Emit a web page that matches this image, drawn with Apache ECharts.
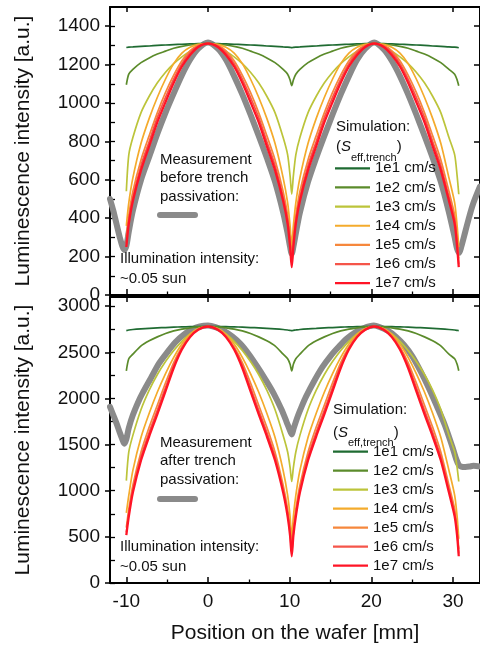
<!DOCTYPE html>
<html>
<head>
<meta charset="utf-8">
<script src="https://cdn.jsdelivr.net/npm/echarts@6/dist/echarts.min.js"></script>
<style>html,body{margin:0;padding:0;background:#fff;}#c{width:480px;height:647px;}</style>
</head>
<body>
<div id="c"></div>
<script>
// ---- data ----
const names = ['1e1 cm/s','1e2 cm/s','1e3 cm/s','1e4 cm/s','1e5 cm/s','1e6 cm/s','1e7 cm/s'];
const colors = ['#1f6b32','#5b8b2b','#bcc43a','#f4ab2c','#f6873c','#f5554a','#ff1426'];
const xTicks = [-10,0,10,20,30];
const xMinor = [-5,5,15,25];

// simulation positions [mm]
const simX = [-10.0,-9.7,-9.2,-8.2,-7.2,-6.2,-5.2,-4.2,-3.2,-2.2,-1.2,0.0,
  1.2,2.2,3.2,4.2,5.2,6.2,7.2,8.2,9.2,9.75,10.05,10.25,
  10.45,10.75,11.25,12.25,13.25,14.25,15.25,16.25,17.25,18.25,19.25,20.35,
  21.5,22.5,23.5,24.5,25.5,26.5,27.5,28.5,29.5,30.2,30.5,30.7];

// top panel: before trench passivation
const top1e1 = [1289,1291,1292,1295,1297,1300,1302,1304,1306,1308,1309,1310,
  1309,1308,1306,1304,1302,1300,1297,1295,1292,1291,1290,1288,
  1290,1291,1292,1295,1297,1300,1302,1304,1306,1308,1309,1310,
  1309,1308,1306,1304,1302,1300,1297,1295,1292,1291,1290,1288];
const top1e2 = [1095,1150,1175,1210,1235,1255,1270,1285,1295,1302,1307,1310,
  1307,1302,1295,1285,1270,1255,1235,1210,1175,1150,1120,1090,
  1120,1150,1175,1210,1235,1255,1270,1285,1295,1302,1307,1310,
  1307,1302,1295,1285,1270,1255,1235,1210,1175,1150,1120,1090];
const top1e3 = [540,730,820,950,1035,1105,1160,1205,1240,1270,1295,1310,
  1295,1270,1240,1205,1160,1105,1035,950,820,730,620,525,
  620,730,820,950,1035,1105,1160,1205,1240,1270,1295,1310,
  1295,1270,1240,1205,1160,1105,1035,950,820,730,620,525];
const top1e4 = [360,480,610,790,920,1030,1125,1205,1260,1290,1305,1310,
  1305,1290,1260,1205,1125,1030,920,790,610,480,360,250,
  360,480,610,790,920,1030,1125,1205,1260,1290,1305,1310,
  1305,1290,1260,1205,1125,1030,920,790,610,480,360,250];
const top1e5 = [300,415,540,705,830,950,1055,1145,1220,1272,1300,1310,
  1300,1272,1220,1145,1055,950,830,705,540,415,300,190,
  300,415,540,705,830,950,1055,1145,1220,1272,1300,1310,
  1300,1272,1220,1145,1055,950,830,705,540,415,300,190];
const top1e6 = [270,390,510,675,800,925,1030,1125,1205,1262,1297,1310,
  1297,1262,1205,1125,1030,925,800,675,510,390,270,160,
  270,390,510,675,800,925,1030,1125,1205,1262,1297,1310,
  1297,1262,1205,1125,1030,925,800,675,510,390,270,160];
const top1e7 = [250,370,490,650,775,900,1005,1105,1190,1250,1292,1310,
  1292,1250,1190,1105,1005,900,775,650,490,370,250,145,
  250,370,490,650,775,900,1005,1105,1190,1250,1292,1310,
  1292,1250,1190,1105,1005,900,775,650,490,370,250,145];

// bottom panel: after trench passivation
const bot1e1 = [2736,2742,2748,2755,2760,2765,2769,2773,2776,2778,2779,2780,
  2779,2778,2776,2773,2769,2765,2760,2755,2748,2742,2738,2735,
  2738,2742,2748,2755,2760,2765,2769,2773,2776,2778,2779,2780,
  2779,2778,2776,2773,2769,2765,2760,2755,2748,2742,2738,2735];
const bot1e2 = [2300,2430,2480,2570,2625,2668,2705,2733,2752,2766,2776,2780,
  2776,2766,2752,2733,2705,2668,2625,2570,2480,2430,2370,2300,
  2370,2430,2480,2570,2625,2668,2705,2733,2752,2766,2776,2780,
  2776,2766,2752,2733,2705,2668,2625,2570,2480,2430,2370,2300];
const bot1e3 = [1110,1420,1600,1880,2090,2260,2400,2520,2620,2700,2755,2780,
  2755,2700,2620,2520,2400,2260,2090,1880,1600,1420,1250,1100,
  1250,1420,1600,1880,2090,2260,2400,2520,2620,2700,2755,2780,
  2755,2700,2620,2520,2400,2260,2090,1880,1600,1420,1250,1100];
const bot1e4 = [760,950,1220,1580,1840,2070,2270,2445,2590,2695,2757,2780,
  2757,2695,2590,2445,2270,2070,1840,1580,1220,950,720,480,
  720,950,1220,1580,1840,2070,2270,2445,2590,2695,2757,2780,
  2757,2695,2590,2445,2270,2070,1840,1580,1220,950,720,480];
const bot1e5 = [600,800,1060,1420,1690,1930,2170,2390,2560,2680,2750,2780,
  2750,2680,2560,2390,2170,1930,1690,1420,1060,800,580,370,
  580,800,1060,1420,1690,1930,2170,2390,2560,2680,2750,2780,
  2750,2680,2560,2390,2170,1930,1690,1420,1060,800,580,370];
const bot1e6 = [550,755,1010,1370,1635,1875,2120,2360,2545,2672,2747,2780,
  2747,2672,2545,2360,2120,1875,1635,1370,1010,755,540,320,
  540,755,1010,1370,1635,1875,2120,2360,2545,2672,2747,2780,
  2747,2672,2545,2360,2120,1875,1635,1370,1010,755,540,320];
const bot1e7 = [520,720,980,1330,1590,1830,2080,2330,2530,2665,2745,2780,
  2745,2665,2530,2330,2080,1830,1590,1330,980,720,510,290,
  510,720,980,1330,1590,1830,2080,2330,2530,2665,2745,2780,
  2745,2665,2530,2330,2080,1830,1590,1330,980,720,510,290];

// measurements
const measTopX = [-12,-11.6,-11.2,-10.8,-10.5,-10.25,-10.0,-9.7,-9.2,-8.2,-7.2,-6.2,-5.2,-4.2,-3.2,-2.2,-1.2,0,
  1.2,2.2,3.2,4.2,5.2,6.2,7.2,8.2,9.2,9.75,10.05,10.25,10.45,10.75,11.25,12.25,13.25,14.25,15.25,16.25,17.25,18.25,19.25,20.35,
  21.5,22.5,23.5,24.5,25.5,26.5,27.5,28.5,29.5,30.2,30.5,30.75,31.0,31.5,32.0,32.5,33.3];
const measTopY = [500,440,370,300,255,235,255,330,440,600,720,840,950,1050,1145,1225,1283,1315,
  1283,1225,1140,1045,940,830,715,590,430,320,250,215,250,320,430,590,715,830,940,1045,1140,1225,1283,1315,
  1280,1220,1140,1045,940,830,715,590,430,300,240,220,250,330,410,480,565];
const measBotX = [-12,-11.6,-11.2,-10.8,-10.5,-10.25,-10.0,-9.7,-9.2,-8.5,-8.0,-7.0,-6.0,-5.0,-4.0,-3.0,-2.0,-1.0,0,
  1,2,3,4,5,6,7,8,9,9.6,10.0,10.25,10.5,11.0,11.5,12,13,14,15,16,17,18,19,20.3,
  21,22,23,24,25,26,27,28,29,29.9,30.4,30.7,31.0,31.5,32.0,32.5,33.3];
const measBotY = [1910,1820,1730,1630,1560,1510,1560,1680,1820,1970,2060,2220,2380,2500,2610,2690,2745,2780,2790,
  2770,2730,2670,2590,2480,2350,2210,2060,1880,1750,1660,1610,1680,1810,1920,2020,2190,2340,2460,2560,2650,2715,2760,2790,
  2775,2735,2670,2580,2460,2300,2120,1920,1710,1480,1340,1280,1262,1258,1262,1270,1262];

const topSim = [top1e1,top1e2,top1e3,top1e4,top1e5,top1e6,top1e7];
const botSim = [bot1e1,bot1e2,bot1e3,bot1e4,bot1e5,bot1e6,bot1e7];
const topYTicks = [0,200,400,600,800,1000,1200,1400];
const topYMinor = [0,100,200,300,400,500,600,700,800,900,1000,1100,1200,1300,1400];
const botYTicks = [0,500,1000,1500,2000,2500,3000];
const botYMinor = [0,250,500,750,1000,1250,1500,1750,2000,2250,2500,2750,3000];

// ---- chart ----
const FONT = '"Liberation Sans", Arial, sans-serif';
const XMIN = -12, XMAX = 33.3;
const lineW = 2;
const plain = v => String(v);
const chart = echarts.init(document.getElementById('c'), null, {renderer:'canvas'});

function xAxes(gi, showLabels){
  return [
    {gridIndex:gi, type:'value', min:XMIN, max:XMAX, position:'bottom',
      axisLine:{show:true, onZero:false, lineStyle:{color:'#000', width:lineW}},
      axisTick:{show:true, inside:true, length:6, lineStyle:{color:'#000', width:1.5}, customValues:xTicks},
      axisLabel:{show:showLabels, customValues:xTicks, formatter:plain, fontSize:19, color:'#111', fontFamily:FONT, margin:9},
      splitLine:{show:false},
      name: showLabels ? 'Position on the wafer [mm]' : '', nameLocation:'middle', nameGap:40,
      nameTextStyle:{fontSize:21, color:'#111', fontFamily:FONT}},
    {gridIndex:gi, type:'value', min:XMIN, max:XMAX, position:'bottom',
      axisLine:{show:false, onZero:false}, axisTick:{show:true, inside:true, length:3.5, lineStyle:{color:'#000', width:1.3}, customValues:xMinor},
      axisLabel:{show:false}, splitLine:{show:false}},
    {gridIndex:gi, type:'value', min:XMIN, max:XMAX, position:'top',
      axisLine:{show:true, onZero:false, lineStyle:{color:'#000', width:lineW}},
      axisTick:{show:true, inside:true, length:5, lineStyle:{color:'#000', width:1.5}, customValues:xTicks},
      axisLabel:{show:false}, splitLine:{show:false}}
  ];
}
function yAxes(gi, max, ticks, minor){
  return [
    {gridIndex:gi, type:'value', min:0, max:max, position:'left',
      axisLine:{show:true, onZero:false, lineStyle:{color:'#000', width:lineW}},
      axisTick:{show:true, inside:true, length:5, lineStyle:{color:'#000', width:1.3}, customValues:minor},
      axisLabel:{show:true, customValues:ticks, formatter:plain, fontSize:19, color:'#111', fontFamily:FONT, margin:10},
      splitLine:{show:false},
      name:'Luminescence intensity [a.u.]', nameLocation:'middle', nameGap:76,
      nameTextStyle:{fontSize:21, color:'#111', fontFamily:FONT}},
    {gridIndex:gi, type:'value', min:0, max:max, position:'left',
      axisLine:{show:false, onZero:false}, axisTick:{show:true, inside:false, length:5, lineStyle:{color:'#000', width:1.5}, customValues:ticks},
      axisLabel:{show:false}, splitLine:{show:false}},
    {gridIndex:gi, type:'value', min:0, max:max, position:'right',
      axisLine:{show:true, onZero:false, lineStyle:{color:'#000', width:lineW}},
      axisTick:{show:true, inside:true, length:6, lineStyle:{color:'#000', width:1.5}, customValues:ticks},
      axisLabel:{show:false}, splitLine:{show:false}}
  ];
}

const series = [];
function addPanel(gi, sims, mx, my){
  series.push({type:'line', name:'meas'+gi, xAxisIndex:gi*3, yAxisIndex:gi*3,
    data: mx.map((x,i)=>[x,my[i]]), showSymbol:false, symbol:'none', smooth:0.3,
    lineStyle:{color:'#8a8a8a', width:6, cap:'round', join:'round'}, itemStyle:{color:'#8a8a8a'}, z:1, silent:true});
  sims.forEach((ys,k)=>{
    series.push({type:'line', name:names[k], xAxisIndex:gi*3, yAxisIndex:gi*3,
      data: simX.map((x,i)=>[x,ys[i]]), showSymbol:false, symbol:'none', smooth:0.25,
      lineStyle:{color:colors[k], width: k===6 ? 2.3 : 1.7}, itemStyle:{color:colors[k]}, z:2+k, silent:true});
  });
}
addPanel(0, topSim, measTopX, measTopY);
addPanel(1, botSim, measBotX, measBotY);

function legendAt(left, top, lh){
  return {data:names, orient:'vertical', left:left, top:top, icon:'rect', itemWidth:35, itemHeight:2.2,
    itemGap:0, selectedMode:false, padding:0,
    textStyle:{fontSize:15, color:'#111', fontFamily:FONT, lineHeight:lh}};
}
const richS = {
  p:{fontSize:15, fontFamily:FONT, fill:'#111', lineHeight:20},
  s:{fontSize:15, fontFamily:FONT, fontStyle:'italic', fill:'#111', lineHeight:20},
  sub:{fontSize:11, fontFamily:FONT, fill:'#111', lineHeight:20, verticalAlign:'bottom', padding:[0,0,-6,0]}
};
function txt(x, y, t){
  return {type:'text', x:x, y:y, style:{text:t, font:'15px '+FONT, fill:'#111', textVerticalAlign:'middle'}, z:100};
}
function panelText(yMeas, yLine, yIll){
  return [
    txt(160, yMeas, 'Measurement'),
    txt(160, yMeas+18.5, yMeas < 300 ? 'before trench' : 'after trench'),
    txt(160, yMeas+37, 'passivation:'),
    {type:'line', shape:{x1:160, y1:yLine, x2:195, y2:yLine}, style:{stroke:'#8a8a8a', lineWidth:6, lineCap:'round'}, z:100},
    txt(120, yIll, 'Illumination intensity:'),
    txt(120, yIll+19.5, '~0.05 sun')
  ];
}
const graphics = [].concat(
  panelText(159.5, 215, 259),
  panelText(442.8, 499, 547.2),
  [
    txt(336, 126.7, 'Simulation:'),
    {type:'text', x:336, y:147, style:{text:'{p|(}{s|S}{sub|eff,trench}{p|)}', rich:richS, textVerticalAlign:'middle'}, z:100},
    txt(333, 410, 'Simulation:'),
    {type:'text', x:333, y:432.8, style:{text:'{p|(}{s|S}{sub|eff,trench}{p|)}', rich:richS, textVerticalAlign:'middle'}, z:100}
  ]
);

chart.setOption({
  animation:false,
  backgroundColor:'#fff',
  grid:[
    {left:110, top:7, width:372, height:288},
    {left:110, top:297, width:372, height:286}
  ],
  xAxis: xAxes(0,false).concat(xAxes(1,true)),
  yAxis: yAxes(0,1500,topYTicks,topYMinor).concat(yAxes(1,3100,botYTicks,botYMinor)),
  legend:[legendAt(335, 158.7, 19.15), legendAt(333, 442.2, 19)],
  graphic: graphics,
  series: series
});
</script>
</body>
</html>
